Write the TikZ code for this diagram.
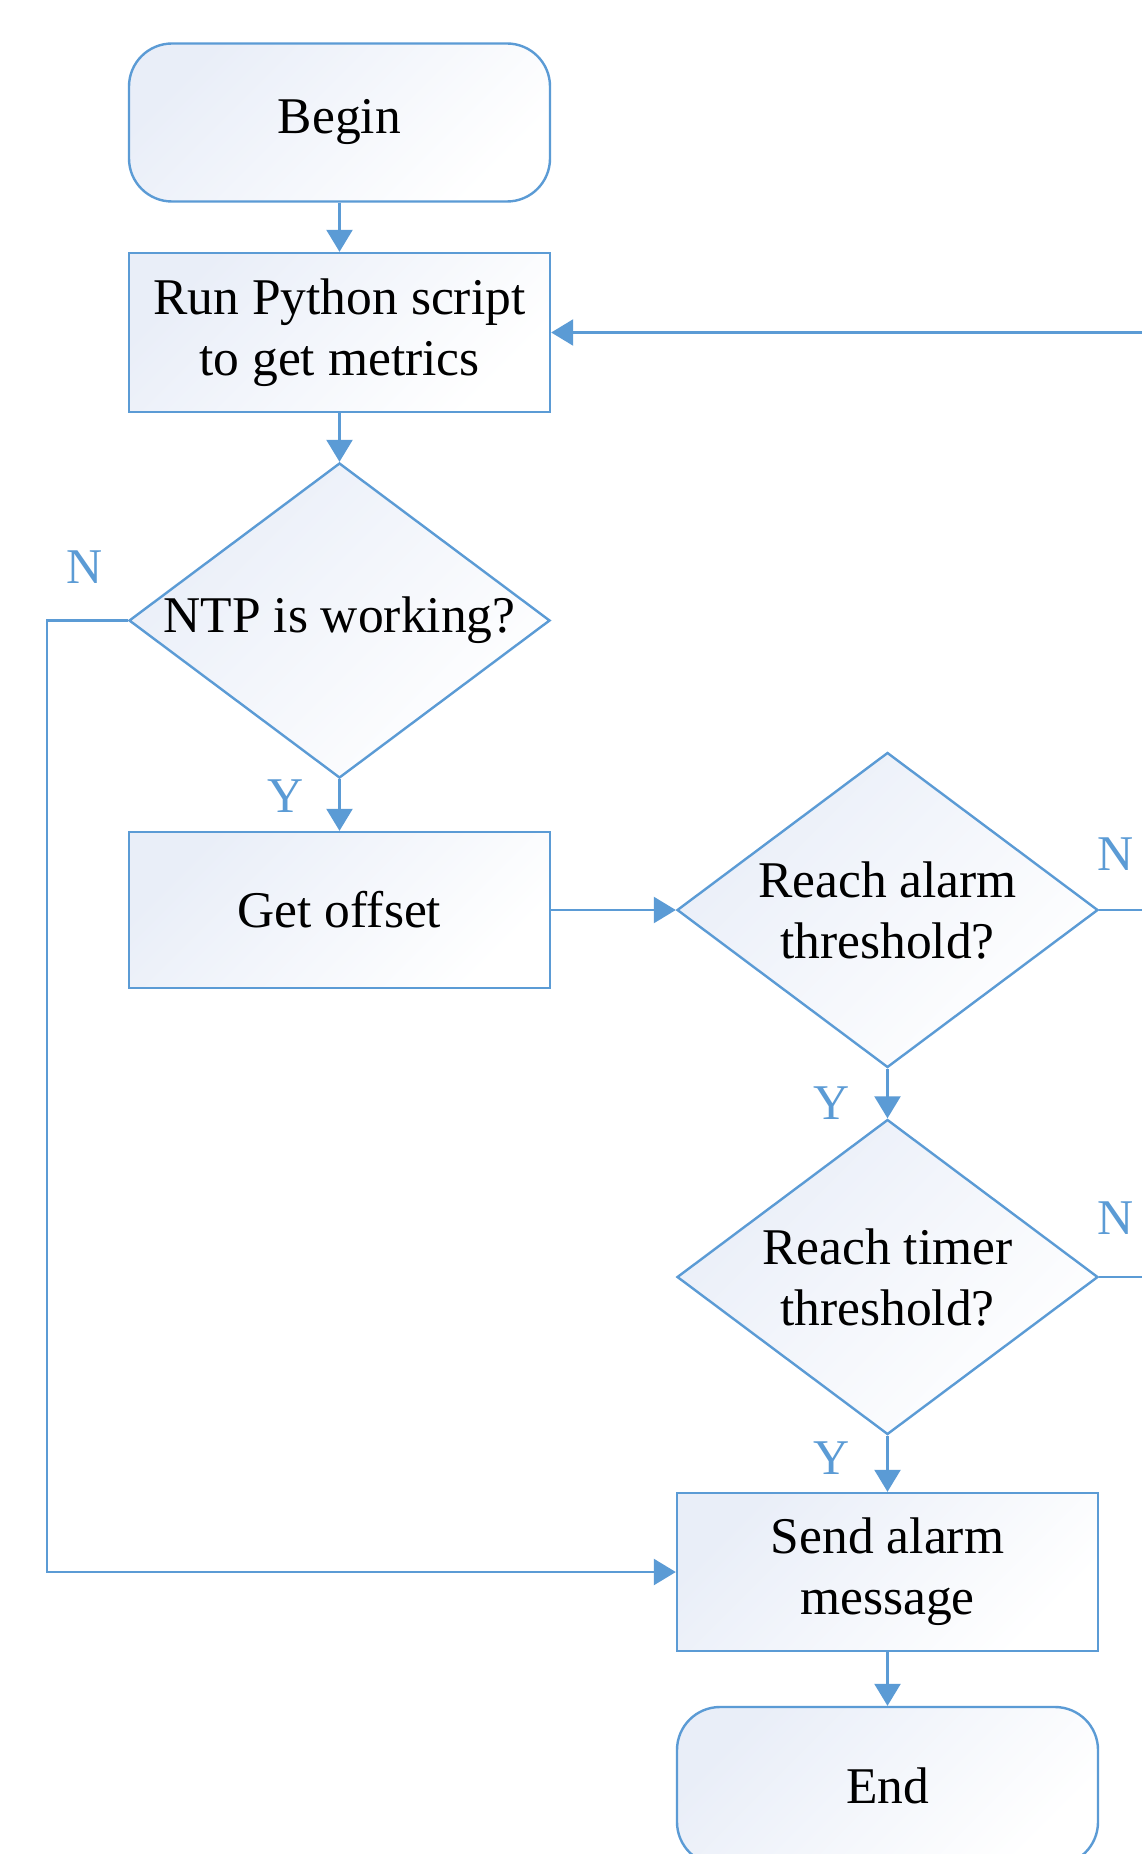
\documentclass[tikz,border=0pt]{standalone}
\usepackage{fontspec}
\setmainfont{Liberation Serif}
\usetikzlibrary{shapes.geometric,arrows.meta}
\definecolor{lineblue}{HTML}{5B9BD5}
\definecolor{fillblue}{HTML}{E9EEF8}
\begin{document}
\begin{tikzpicture}[x=1pt,y=-1pt,
  every node/.style={font=\fontsize{51.5}{61}\selectfont},
  base/.style={draw=lineblue, line width=2.4pt, top color=fillblue, bottom color=white, shading angle=45, inner sep=0pt, align=center, minimum width=421pt},
  procbox/.style={base, rectangle, minimum height=158pt},
  termbox/.style={base, rectangle, rounded corners=43pt, minimum height=158pt},
  decbox/.style={base, diamond, minimum height=315pt},
  lbl/.style={text=lineblue, font=\fontsize{50}{60}\selectfont, inner sep=0pt},
  conn/.style={draw=lineblue, line width=2.4pt, -{Triangle[width=26pt,length=22pt]}},
  plainline/.style={draw=lineblue, line width=2.4pt}]
\clip (0,0) rectangle (1142,1854);
\fill[white] (0,0) rectangle (1142,1854);

\node[termbox] (begin) at (339.5,122.5) {Begin};
\node[procbox, minimum height=159pt] (run) at (339.5,332.5) {Run Python script\\to get metrics};
\node[decbox, label={[align=center]center:NTP is working?}] (ntp) at (339.5,620.5) {};
\node[procbox, minimum height=156pt] (get) at (339.5,910) {Get offset};
\node[decbox, label={[align=center]center:Reach alarm\\threshold?}] (alarm) at (887.5,910) {};
\node[decbox, label={[align=center]center:Reach timer\\threshold?}] (timer) at (887.5,1277) {};
\node[procbox] (send) at (887.5,1572) {Send alarm\\message};
\node[termbox] (end) at (887.5,1786) {End};

\coordinate (leftx) at (47,0);
\coordinate (loopx) at (1170,0);

\draw[conn] (begin.south) -- (run.north);
\draw[conn] (run.south) -- (ntp.north);
\draw[conn] (ntp.south) -- (get.north);
\draw[conn] (ntp.west) -- (ntp.west -| leftx) -- (leftx |- send.west) -- (send.west);
\draw[conn] (get.east) -- (alarm.west);
\draw[conn] (alarm.south) -- (timer.north);
\draw[conn] (timer.south) -- (send.north);
\draw[conn] (send.south) -- (end.north);
\draw[conn] (alarm.east) -- (alarm.east -| loopx) -- (loopx |- run.east) -- (run.east);
\draw[plainline] (timer.east) -- (timer.east -| loopx);

\node[lbl] (nN1) at (85,567) {N};
\node[lbl] (nY1) at (286,796) {Y};
\node[lbl] (nN2) at (1116,854) {N};
\node[lbl] (nY2) at (832,1103) {Y};
\node[lbl] (nN3) at (1116,1218) {N};
\node[lbl] (nY3) at (832,1458) {Y};
\end{tikzpicture}
\end{document}
